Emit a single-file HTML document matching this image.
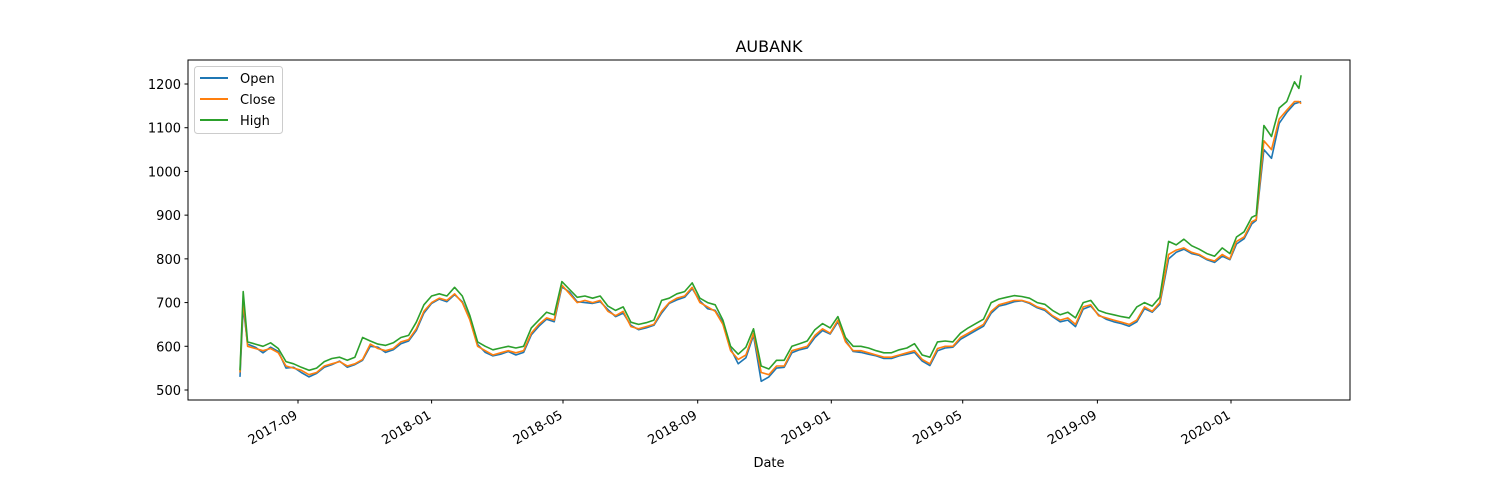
<!DOCTYPE html>
<html><head><meta charset="utf-8"><style>
body{margin:0;background:#fff;}
svg{display:block;font-family:"DejaVu Sans","Liberation Sans",sans-serif;}
</style></head><body>
<svg id="chart" width="1500" height="500">
<rect x="0" y="0" width="1500" height="500" fill="#fff"/>
<text x="769" y="52" font-size="16" text-anchor="middle">AUBANK</text>
<g id="plot"></g>
<rect x="188" y="60" width="1162" height="340" fill="none" stroke="#000" stroke-width="1"/>
<text x="769" y="467" font-size="13" text-anchor="middle">Date</text>
<g>
<rect x="194.5" y="66.5" width="88" height="67" rx="3" fill="#fff" fill-opacity="0.8" stroke="#ccc"/>
<g><line x1="200" y1="78" x2="228" y2="78" stroke="#1f77b4" stroke-width="2"/><text x="240" y="83" font-size="13">Open</text></g>
<g><line x1="200" y1="99" x2="228" y2="99" stroke="#ff7f0e" stroke-width="2"/><text x="240" y="104" font-size="13">Close</text></g>
<g><line x1="200" y1="120" x2="228" y2="120" stroke="#2ca02c" stroke-width="2"/><text x="240" y="125" font-size="13">High</text></g>
</g>
</svg>
<script>
const dates=["2017-07-10","2017-07-13","2017-07-17","2017-07-24","2017-07-31","2017-08-07","2017-08-14","2017-08-21","2017-08-28","2017-09-04","2017-09-11","2017-09-18","2017-09-25","2017-10-02","2017-10-09","2017-10-16","2017-10-23","2017-10-30","2017-11-06","2017-11-13","2017-11-20","2017-11-27","2017-12-04","2017-12-11","2017-12-18","2017-12-25","2018-01-01","2018-01-08","2018-01-15","2018-01-22","2018-01-29","2018-02-05","2018-02-12","2018-02-19","2018-02-26","2018-03-05","2018-03-12","2018-03-19","2018-03-26","2018-04-02","2018-04-09","2018-04-16","2018-04-23","2018-04-30","2018-05-07","2018-05-14","2018-05-21","2018-05-28","2018-06-04","2018-06-11","2018-06-18","2018-06-25","2018-07-02","2018-07-09","2018-07-16","2018-07-23","2018-07-30","2018-08-06","2018-08-13","2018-08-20","2018-08-27","2018-09-03","2018-09-10","2018-09-17","2018-09-24","2018-10-01","2018-10-08","2018-10-15","2018-10-22","2018-10-29","2018-11-05","2018-11-12","2018-11-19","2018-11-26","2018-12-03","2018-12-10","2018-12-17","2018-12-24","2018-12-31","2019-01-07","2019-01-14","2019-01-21","2019-01-28","2019-02-04","2019-02-11","2019-02-18","2019-02-25","2019-03-04","2019-03-11","2019-03-18","2019-03-25","2019-04-01","2019-04-08","2019-04-15","2019-04-22","2019-04-29","2019-05-06","2019-05-13","2019-05-20","2019-05-27","2019-06-03","2019-06-10","2019-06-17","2019-06-24","2019-07-01","2019-07-08","2019-07-15","2019-07-22","2019-07-29","2019-08-05","2019-08-12","2019-08-19","2019-08-26","2019-09-02","2019-09-09","2019-09-16","2019-09-23","2019-09-30","2019-10-07","2019-10-14","2019-10-21","2019-10-28","2019-11-05","2019-11-12","2019-11-19","2019-11-26","2019-12-03","2019-12-10","2019-12-17","2019-12-24","2019-12-31","2020-01-06","2020-01-13","2020-01-20","2020-01-24","2020-01-31","2020-02-07","2020-02-14","2020-02-21","2020-02-28","2020-03-03","2020-03-05"];
const closeVals=[540,705,600,595,590,595,585,555,550,545,535,540,555,560,565,555,560,570,605,595,590,595,610,615,640,680,700,710,705,720,700,660,600,590,580,585,590,585,590,630,650,665,660,740,720,700,705,700,705,680,670,680,645,640,645,650,680,700,710,715,735,700,690,680,650,590,570,580,630,540,535,555,555,590,595,600,625,640,630,660,610,590,590,585,580,575,575,580,585,590,570,560,595,600,600,620,630,640,650,680,695,700,705,705,700,690,685,670,660,665,650,690,695,670,665,660,655,650,660,690,680,700,810,820,825,815,810,800,795,810,800,840,850,885,890,1070,1050,1120,1140,1160,1160,1155];
const openVals=[530,690,605,598,585,598,588,550,552,540,530,538,552,558,566,552,558,568,600,598,586,592,606,612,636,676,698,708,702,718,702,662,604,586,578,582,588,580,586,626,646,662,656,736,724,702,700,698,702,684,668,676,648,638,642,648,676,698,706,712,732,704,686,682,654,595,560,574,625,520,530,550,552,585,592,596,620,636,628,656,614,588,586,582,578,572,572,578,582,586,566,556,590,596,598,616,626,636,646,676,692,696,702,704,698,688,682,668,656,660,645,685,692,672,662,656,652,646,656,686,678,696,800,815,822,812,808,798,792,806,798,834,846,880,888,1050,1030,1110,1135,1155,1158,1160];
const highVals=[545,725,610,605,600,608,595,565,560,552,545,550,565,572,575,568,575,620,612,605,602,608,620,625,655,695,715,720,715,735,715,670,610,600,592,596,600,596,600,642,660,678,672,748,730,712,715,710,715,692,682,690,655,650,654,660,705,710,720,725,745,710,700,695,660,600,582,598,640,555,548,568,568,600,606,612,638,652,642,668,620,600,600,596,590,585,585,592,596,606,580,575,610,612,610,630,642,652,662,700,708,712,716,714,710,700,696,682,672,678,665,700,705,682,676,672,668,665,690,700,692,712,840,832,845,830,822,812,806,825,812,850,862,895,900,1105,1080,1145,1160,1205,1190,1220];
const tickDates=["2017-09","2018-01","2018-05","2018-09","2019-01","2019-05","2019-09","2020-01"];
const yTicks=[500,600,700,800,900,1000,1100,1200];

const NS="http://www.w3.org/2000/svg";
const svg=document.getElementById('chart');
const plot=document.getElementById('plot');
const t0=Date.parse("2017-09-01"),t1=Date.parse("2020-01-01");
function xScale(d){const t=Date.parse(d.length===7?d+"-01":d);return 298+(t-t0)/(t1-t0)*(1231-298);}
function yScale(v){return 390-(v-500)*(306/700);}

yTicks.forEach(v=>{
  const y=yScale(v);
  const l=document.createElementNS(NS,'line');
  l.setAttribute('x1',184.5);l.setAttribute('x2',188);l.setAttribute('y1',y);l.setAttribute('y2',y);l.setAttribute('stroke','#000');
  
  
  svg.appendChild(l);
  const t=document.createElementNS(NS,'text');
  t.setAttribute('x',181);t.setAttribute('y',y+5);t.setAttribute('font-size','13');t.setAttribute('text-anchor','end');
  t.textContent=v;
  
  
  svg.appendChild(t);
});
tickDates.forEach(d=>{
  const x=xScale(d);
  const l=document.createElementNS(NS,'line');
  l.setAttribute('x1',x);l.setAttribute('x2',x);l.setAttribute('y1',400);l.setAttribute('y2',403.5);l.setAttribute('stroke','#000');
  
  
  svg.appendChild(l);
  const t=document.createElementNS(NS,'text');
  t.setAttribute('transform',`translate(${x-4},${410}) rotate(-30)`);
  t.setAttribute('font-size','13');t.setAttribute('text-anchor','end');t.setAttribute('dominant-baseline','hanging');
  t.textContent=d;
  
  
  svg.appendChild(t);
});
function drawLine(vals,color,name){
  const p=document.createElementNS(NS,'polyline');
  p.setAttribute('points',vals.map((v,i)=>xScale(dates[i]).toFixed(1)+','+yScale(v).toFixed(1)).join(' '));
  p.setAttribute('fill','none');p.setAttribute('stroke',color);p.setAttribute('stroke-width','1.6');p.setAttribute('stroke-linejoin','round');
  
  
  plot.appendChild(p);
}
drawLine(openVals,'#1f77b4','open-line');
drawLine(closeVals,'#ff7f0e','close-line');
drawLine(highVals,'#2ca02c','high-line');
</script>
</body></html>
